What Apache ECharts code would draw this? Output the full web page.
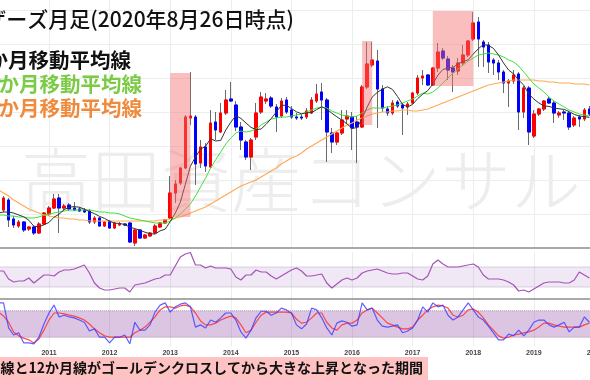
<!DOCTYPE html>
<html><head><meta charset="utf-8">
<script src="https://cdn.jsdelivr.net/npm/echarts@6/dist/echarts.min.js"></script>
<style>html,body{margin:0;padding:0;background:#fff}#c{width:590px;height:380px}</style>
</head><body><div id="c"></div>
<script>
// ---- categories: monthly, 2010-03 .. 2020-02 ----
const firstYear = 2010, firstMonth = 3, monthCount = 120;
const months = [];
for (let i = 0; i < monthCount; i++) {
  const t = firstYear * 12 + (firstMonth - 1) + i;
  months.push(Math.floor(t / 12) + '-' + String(t % 12 + 1).padStart(2, '0'));
}
// ---- monthly OHLC (index points) 2010-03 .. 2019-12 ----
const opens = [440,450,500,405,370,390,355,365,335,380,
430,460,510,460,475,460,455,450,445,390,
410,370,395,360,375,380,385,285,350,310,
320,335,365,385,410,535,585,660,910,915,
685,765,665,890,840,935,1005,975,865,790,
715,815,940,995,1010,965,920,1000,950,915,
915,915,935,995,1040,1000,835,790,835,905,
915,890,865,1065,1175,1195,1055,955,935,990,
975,965,985,1035,1110,1125,1075,1160,1245,1205,
1160,1145,1185,1225,1305,1390,1290,1275,1200,1185,
1140,1085,1095,1130,940,1060,820,930,955,1005,
985,925,940,935,875,915,905,955];
const closes = [470,510,400,375,390,350,365,335,380,435,
460,505,460,470,455,450,445,440,390,410,
370,390,360,385,380,375,290,350,310,325,
335,370,385,400,535,580,660,915,920,680,
765,670,885,850,935,1000,995,865,800,715,
800,935,1015,1005,970,915,995,940,915,910,
910,945,1000,1030,1000,840,790,835,900,920,
860,865,1065,1180,1200,1055,960,935,985,970,
960,980,1035,1110,1120,1075,1160,1240,1210,1150,
1140,1185,1225,1295,1385,1305,1265,1190,1185,1140,
1085,1095,1125,940,1060,840,930,955,995,985,
935,935,935,865,910,905,950,930];
const lows = [430,440,365,360,360,340,345,325,330,375,
420,455,335,450,445,445,440,435,380,380,
365,365,355,355,370,370,285,270,305,305,
315,330,360,380,405,485,575,655,875,575,
660,640,660,800,835,925,990,845,750,700,
650,800,930,980,960,840,910,930,905,900,
900,905,930,985,900,690,735,775,825,885,
750,685,860,1055,1165,860,940,920,925,960,
825,925,980,1025,1075,1070,1070,1140,1200,1100,
1040,1125,1175,1215,1295,1165,1165,1135,1125,1100,
1035,965,1080,850,910,775,810,920,945,980,
885,910,900,850,865,865,895,920];
const highs = [485,520,510,420,400,395,370,370,390,440,
470,530,530,480,485,490,465,460,455,420,
415,395,400,390,390,385,390,355,355,330,
340,380,390,405,620,600,665,925,1140,925,
800,785,950,940,985,1050,1090,995,890,800,
810,985,1040,1035,1020,980,1010,1015,970,935,
930,960,1015,1080,1085,1010,860,845,950,950,
940,920,1075,1290,1290,1250,1075,970,1000,1000,
985,990,1040,1125,1150,1130,1165,1285,1260,1220,
1175,1210,1275,1300,1440,1415,1300,1290,1210,1200,
1150,1105,1150,1140,1070,1070,950,960,1000,1015,
995,945,950,945,920,925,960,970];
// ---- moving averages ----
const ma6 = [435,440,440,435,425,416,399,369,366,376,
388,414,429,452,464,467,464,454,442,432,
418,408,394,384,383,377,364,357,349,339,
331,330,346,354,392,434,489,579,669,715,
754,769,806,795,798,850,889,922,908,885,
863,852,855,879,907,940,973,974,957,941,
931,936,937,952,966,954,934,916,899,881,
858,862,908,965,1015,1038,1054,1066,1053,1018,
978,965,978,1007,1029,1047,1080,1124,1153,1159,
1163,1181,1192,1201,1230,1256,1277,1273,1258,1225,
1185,1150,1130,1100,1074,1030,1005,985,970,968,
960,956,953,942,928,920,917,913];
const ma12 = [425,425,420,420,415,415,410,410,415,425,
430,435,440,445,450,450,450,450,450,445,
440,440,435,435,430,420,410,405,400,395,
390,385,385,385,395,410,430,455,480,520,
565,610,660,700,740,780,810,835,845,840,
845,855,875,890,905,910,915,915,920,925,
930,940,950,960,965,960,945,935,925,920,
915,920,935,950,960,960,960,965,970,975,
985,995,1005,1020,1035,1030,1040,1060,1085,1110,
1135,1155,1175,1195,1210,1225,1230,1235,1230,1225,
1215,1200,1190,1170,1140,1110,1080,1060,1040,1015,
995,980,965,950,940,930,925,920];
const ma24 = [550,535,520,500,485,470,455,445,435,425,
420,415,410,410,405,405,400,400,395,395,
395,395,395,395,395,395,395,395,395,395,
395,395,400,400,405,410,415,425,435,445,
455,465,480,495,510,525,540,555,570,580,
590,600,615,630,645,660,680,695,710,720,
735,755,770,785,800,815,830,845,860,875,
885,900,910,920,930,935,940,940,945,945,
950,950,945,945,950,955,965,975,985,995,
1005,1015,1025,1035,1045,1055,1065,1075,1080,1085,
1090,1095,1100,1100,1100,1100,1100,1095,1095,1090,
1090,1085,1085,1085,1080,1080,1080,1075];
// ---- oscillators ----
const rsi = [62,62,46,40,42,42,48,38,46,54,
54,52,60,64,64,66,70,74,58,38,
28,24,24,26,28,28,20,34,36,38,
42,46,48,54,54,72,90,96,99,74,
74,68,72,68,68,68,66,50,44,54,
54,64,60,60,52,46,52,58,64,68,
62,52,52,54,56,38,28,36,44,48,
44,48,58,62,64,66,62,58,56,56,
58,58,52,46,44,52,76,84,76,70,
70,70,72,74,76,70,54,46,46,46,
44,40,34,22,24,20,26,32,38,40,
40,40,38,38,44,60,54,48];
const stochK = [98,98,41,25,30,7,7,5,20,50,
75,93,66,70,66,64,59,54,34,39,
20,20,7,20,20,25,5,54,36,36,
48,77,93,98,77,89,95,98,89,43,
48,41,59,54,64,75,75,59,32,18,
36,64,79,79,70,75,86,82,75,48,
39,50,86,82,64,41,25,52,57,54,
45,48,98,82,86,59,45,43,45,48,
30,34,41,59,89,77,98,89,93,70,
59,66,82,98,82,66,59,45,30,14,
14,27,23,36,23,36,54,59,59,48,
43,48,54,32,43,43,66,54];
const stochD = [77,68,54,32,23,18,14,7,16,36,
59,75,75,73,70,68,64,59,50,39,
30,23,20,20,20,20,20,30,36,43,
54,66,82,89,89,86,91,93,89,75,
57,48,48,52,59,64,68,64,48,30,
36,54,70,77,77,77,77,77,75,61,
52,54,64,75,75,54,41,36,48,52,
52,59,75,82,86,75,64,52,48,43,
39,39,43,59,70,82,89,93,91,86,
70,66,70,82,84,77,64,48,36,23,
18,20,25,27,30,32,36,43,52,52,
48,45,43,43,43,43,48,52];
// ---- highlighted rally periods ----
const rallyStart = ['2013-01', '2016-03', '2017-05'];
const rallyEnd   = ['2013-05', '2016-05', '2018-01'];
const rallyTop    = [1135, 1295, 1445];
const rallyBottom = [415, 875, 1070];

const FONT = '"Noto Sans CJK JP", "Noto Sans", sans-serif';
const isYearStart = (idx, val) => val.endsWith('-01');
const vGrid = { show: true, interval: isYearStart, lineStyle: { color: '#e9eeee', width: 1 } };

const candleFull = opens.map((o, i) => [o, closes[i], lows[i], highs[i]]);
const candleBody = opens.map((o, i) => [o, closes[i], Math.min(o, closes[i]), Math.max(o, closes[i])]);

const chart = echarts.init(document.getElementById('c'), null, { renderer: 'canvas', width: 590, height: 380 });

const gridCommon = { left: -1.5, width: 601, containLabel: false, outerBoundsMode: 'none', show: false };
const xCommon = (gi, showLabel) => ({
  type: 'category', gridIndex: gi, data: months, boundaryGap: false,
  axisLine: { show: false }, axisTick: { show: false },
  axisLabel: showLabel ? {
    show: true, interval: isYearStart, formatter: v => v.slice(0, 4),
    fontSize: 7, color: '#444', margin: 4, fontFamily: 'Liberation Sans, Arial, sans-serif', fontWeight: 'bold'
  } : { show: false },
  splitLine: vGrid
});

const option = {
  animation: false,
  backgroundColor: '#ffffff',
  grid: [
    Object.assign({ top: 0, height: 248 }, gridCommon),
    Object.assign({ top: 252, height: 50 }, gridCommon),
    Object.assign({ top: 302, height: 44 }, gridCommon)
  ],
  xAxis: [xCommon(0, false), xCommon(1, false), xCommon(2, true)],
  yAxis: [
    { type: 'value', gridIndex: 0, min: 260, max: 1500, show: false },
    { type: 'value', gridIndex: 0, min: 5, max: 253, interval: 34, axisLine: { show: false }, axisTick: { show: false },
      axisLabel: { show: false }, splitLine: { show: true, showMaxLine: false, showMinLine: false, lineStyle: { color: '#e9eeee' } } },
    { type: 'value', gridIndex: 1, min: 0, max: 100, show: false },
    { type: 'value', gridIndex: 2, min: 0, max: 100, show: false }
  ],
  series: [
    { name: 'wick', type: 'candlestick', xAxisIndex: 0, yAxisIndex: 0, data: candleFull, barWidth: 3, z: 2,
      itemStyle: { color: '#6a6a6a', color0: '#6a6a6a', borderColor: '#6a6a6a', borderColor0: '#6a6a6a', borderWidth: 1 } },
    { name: 'body', type: 'candlestick', xAxisIndex: 0, yAxisIndex: 0, data: candleBody, barWidth: 3, z: 3,
      itemStyle: { color: '#ff0000', color0: '#0000ff', borderColor: '#ff0000', borderColor0: '#0000ff', borderWidth: 1 } },
    { name: 'ma24', type: 'line', xAxisIndex: 0, yAxisIndex: 0, data: ma24, showSymbol: false, z: 4,
      lineStyle: { color: '#ffaa55', width: 1.2 } },
    { name: 'ma12', type: 'line', xAxisIndex: 0, yAxisIndex: 0, data: ma12, showSymbol: false, z: 4,
      lineStyle: { color: '#3fe03f', width: 1 } },
    { name: 'ma6', type: 'line', xAxisIndex: 0, yAxisIndex: 0, data: ma6, showSymbol: false, z: 4,
      lineStyle: { color: '#333333', width: 1 },
      markArea: { silent: true, z: 10,
        itemStyle: { color: 'rgba(245,110,110,0.45)', borderWidth: 0 },
        data: rallyStart.map((s, i) => [{ coord: [s, rallyTop[i]] }, { coord: [rallyEnd[i], rallyBottom[i]] }]) } },
    { name: 'rsi', type: 'line', xAxisIndex: 1, yAxisIndex: 2, data: rsi, showSymbol: false, z: 4,
      lineStyle: { color: '#a552b8', width: 1.2 },
      markArea: { silent: true, z: 1,
        itemStyle: { color: 'rgba(170,110,190,0.16)', borderColor: '#b9aabd', borderWidth: 1, borderType: 'dotted' },
        data: [[{ yAxis: 30 }, { yAxis: 70 }]] } },
    { name: 'stochD', type: 'line', xAxisIndex: 2, yAxisIndex: 3, data: stochD, showSymbol: false, z: 4,
      lineStyle: { color: '#ff3030', width: 1.2, opacity: 0.85 },
      markArea: { silent: true, z: 1,
        itemStyle: { color: 'rgba(150,80,170,0.33)', borderColor: '#a898ad', borderWidth: 1, borderType: 'dotted' },
        data: [[{ yAxis: 20 }, { yAxis: 80 }]] } },
    { name: 'stochK', type: 'line', xAxisIndex: 2, yAxisIndex: 3, data: stochK, showSymbol: false, z: 5,
      lineStyle: { color: '#3a3aff', width: 1.2, opacity: 0.8 } }
  ],
  graphic: [
    { type: 'text', z: 0, silent: true, left: 21, top: 145,
      style: { text: '高田資産コンサル', font: '200 70px ' + FONT, fill: '#ededed' } },
    { type: 'line', z: 50, silent: true, shape: { x1: 0, y1: 248, x2: 590, y2: 248 }, style: { stroke: '#8c8c8c', lineWidth: 1.6 } },
    { type: 'line', z: 50, silent: true, shape: { x1: 0, y1: 299, x2: 590, y2: 299 }, style: { stroke: '#8c8c8c', lineWidth: 1.6 } },
    { type: 'text', z: 60, silent: true, x: 294, y: 19,
      style: { text: 'マザーズ月足(2020年8月26日時点)', font: '500 21px ' + FONT, fill: '#111', textAlign: 'right', textVerticalAlign: 'middle' } },
    { type: 'text', z: 60, silent: true, x: 131, y: 60,
      style: { text: '6か月移動平均線', font: 'bold 20.5px ' + FONT, fill: '#111', textAlign: 'right', textVerticalAlign: 'middle' } },
    { type: 'text', z: 60, silent: true, x: 142, y: 84,
      style: { text: '12か月移動平均線', font: 'bold 20.5px ' + FONT, fill: '#7ccb47', textAlign: 'right', textVerticalAlign: 'middle' } },
    { type: 'text', z: 60, silent: true, x: 142, y: 108,
      style: { text: '24か月移動平均線', font: 'bold 20.5px ' + FONT, fill: '#f08a3c', textAlign: 'right', textVerticalAlign: 'middle' } },
    { type: 'rect', z: 55, silent: true, shape: { x: 0, y: 357, width: 428, height: 23 }, style: { fill: '#ffc2c2' } },
    { type: 'text', z: 60, silent: true, x: 423, y: 368,
      style: { text: '6か月線と12か月線がゴールデンクロスしてから大きな上昇となった期間', font: 'bold 14px ' + FONT, fill: '#111', textAlign: 'right', textVerticalAlign: 'middle' } }
  ]
};
chart.setOption(option);
</script>
</body></html>
